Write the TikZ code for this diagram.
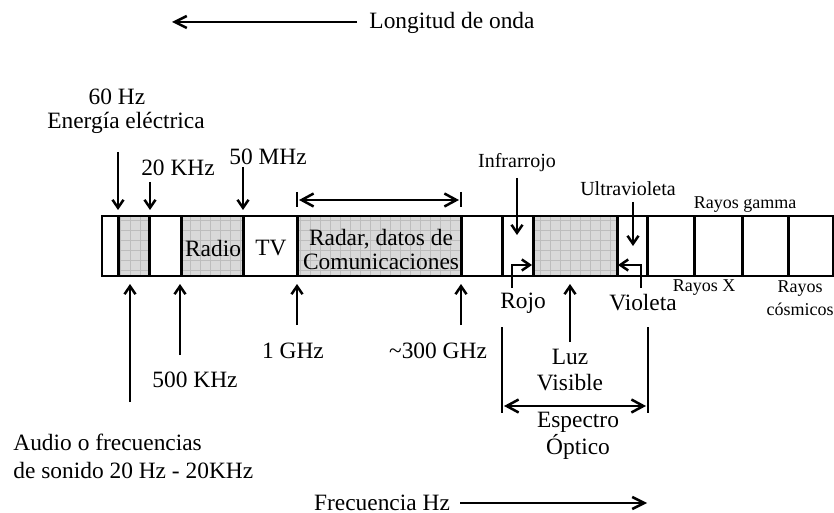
\documentclass[tikz,border=0pt]{standalone}
\usepackage{fontspec}
\setmainfont{Liberation Serif}
\usetikzlibrary{arrows.meta}
\definecolor{cellgray}{HTML}{D9D9D9}
\definecolor{gridgray}{HTML}{BDBDBD}
\tikzset{
	lbl/.style={font=\fontsize{11.7}{13}\selectfont, align=center, inner sep=0pt},
	midlbl/.style={font=\fontsize{10}{12}\selectfont, align=center, inner sep=0pt},
	sml/.style={font=\fontsize{9}{11.5}\selectfont, align=center, inner sep=0pt},
	arr/.style={line width=1.25pt, -{Straight Barb[length=4pt,width=5.5pt]}},
	bigarr/.style={line width=1.25pt, -{Straight Barb[length=6pt,width=6pt]}},
	dbl/.style={line width=1.25pt, {Straight Barb[length=6pt,width=6.5pt]}-{Straight Barb[length=6pt,width=6.5pt]}},
	divider/.style={line width=1.5pt},
	tick/.style={line width=1.1pt}
}
\begin{document}
\begin{tikzpicture}[x=.5pt,y=-.5pt]
		\useasboundingbox (0,0) rectangle (834,513);
		% shaded bands
		\foreach \a/\b in {118/149, 181/243, 297/461, 533/617} {
			\fill [cellgray] (\a,216) rectangle (\b,276);
			\begin{scope}
				\clip (\a,276) rectangle (\b,216);
				\draw [gridgray, line width=.3pt, step=5pt] (\a,276) grid (\b,216);
			\end{scope}
		}
		% the bar
		\draw [line width=1pt] (102,216) rectangle (833,276);
		\foreach \x in {118, 149, 181, 243, 297, 461, 502, 533, 617, 647, 694, 742, 788} {
			\draw [divider] (\x,216) -- (\x,276);
		}
		% band texts
		\node [lbl] (radio) at (213,248) {Radio};
		\node [lbl] (tv) at (271,248) {TV};
		\node [lbl, font=\fontsize{11.7}{12}\selectfont] (radar) at (381,249) {Radar, datos de\\Comunicaciones};
		\node [sml] (gamma) at (745,205) {Rayos gamma};
		\node [sml] (rx) at (704,288) {Rayos X};
		\node [sml] (cosm) at (800,298) {Rayos\\cósmicos};
		% wavelength / frequency
		\node [lbl] (onda) at (452,23) {Longitud de onda};
		\coordinate (ondabeg) at (357,22);
		\coordinate (ondaend) at (172,22);
		\draw [bigarr] (ondabeg) -- (ondaend);
		\node [lbl] (frec) at (382,503) {Frecuencia Hz};
		\coordinate (frecbeg) at (460,503);
		\coordinate (frecend) at (647,503);
		\draw [bigarr] (frecbeg) -- (frecend);
		% labels above
		\node [lbl] (hz60) at (117,97) {60 Hz};
		\node [lbl] (elec) at (126,123) {Energía eléctrica};
		\node [lbl] (khz20) at (178,168) {20 KHz};
		\node [lbl] (mhz50) at (268,157) {50 MHz};
		\node [midlbl] (infra) at (517,163) {Infrarrojo};
		\node [midlbl] (ultra) at (628,189) {Ultravioleta};
		\coordinate (a60) at (118,152);   \coordinate (b60) at (118,210);
		\coordinate (a20) at (150,182);   \coordinate (b20) at (150,210);
		\coordinate (a50) at (243,167);   \coordinate (b50) at (243,210);
		\coordinate (ainf) at (517,178);  \coordinate (binf) at (517,235);
		\coordinate (auv) at (633,202);   \coordinate (buv) at (633,246);
		\draw [arr] (a60) -- (b60);
		\draw [arr] (a20) -- (b20);
		\draw [arr] (a50) -- (b50);
		\draw [arr] (ainf) -- (binf);
		\draw [arr] (auv) -- (buv);
		% radar span
		\coordinate (rl) at (299,200);
		\coordinate (rr) at (459,200);
		\draw [tick] (297,192) -- (297,207);
		\draw [tick] (461,192) -- (461,207);
		\draw [dbl] (rl) -- (rr);
		% labels below
		\node [lbl] (khz500) at (195,380) {500 KHz};
		\node [lbl] (ghz1) at (293,351) {1 GHz};
		\node [lbl] (ghz300) at (438,351) {\textasciitilde300 GHz};
		\node [lbl, anchor=west, align=left, font=\fontsize{11.7}{14}\selectfont] (audio) at (13,456) {Audio o frecuencias\\de sonido 20 Hz - 20KHz};
		\coordinate (aau) at (130,402);   \coordinate (bau) at (130,284);
		\coordinate (a500) at (180,355);  \coordinate (b500) at (180,284);
		\coordinate (a1g) at (297,325);   \coordinate (b1g) at (297,284);
		\coordinate (a300) at (461,325);  \coordinate (b300) at (461,284);
		\draw [arr] (aau) -- (bau);
		\draw [arr] (a500) -- (b500);
		\draw [arr] (a1g) -- (b1g);
		\draw [arr] (a300) -- (b300);
		% visible light
		\node [lbl] (rojo) at (523,303) {Rojo};
		\node [lbl] (violeta) at (643,303) {Violeta};
		\node [lbl] (luz) at (570,370) {Luz\\Visible};
		\coordinate (rojobeg) at (512,288);
		\coordinate (rojoend) at (532,265);
		\coordinate (violbeg) at (641,288);
		\coordinate (violend) at (618,265);
		\draw [arr] (rojobeg) |- (rojoend);
		\draw [arr] (violbeg) |- (violend);
		\coordinate (aluz) at (570,342);
		\coordinate (bluz) at (570,284);
		\draw [arr] (aluz) -- (bluz);
		% optical spectrum
		\draw [tick] (502,327) -- (502,413);
		\draw [tick] (648,327) -- (648,413);
		\coordinate (ol) at (504,406);
		\coordinate (or) at (646,406);
		\draw [dbl] (ol) -- (or);
		\node [lbl, font=\fontsize{11.7}{12.5}\selectfont] (optico) at (578,436) {Espectro\\Óptico};
	\end{tikzpicture}
\end{document}
